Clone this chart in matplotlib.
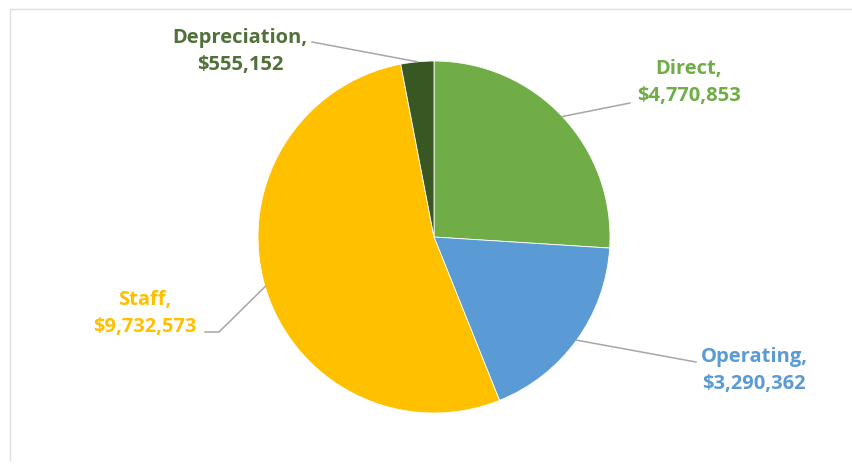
import matplotlib.pyplot as plt
import numpy as np

categories = ["Direct", "Operating", "Staff", "Depreciation"]
amounts = [4770853, 3290362, 9732573, 555152]
slice_colors = ["#70AD47", "#5B9BD5", "#FFC000", "#385723"]
label_colors = ["#70AD47", "#5B9BD5", "#FFC000", "#52703A"]

W, H = 853, 465
CX, CY, R = 434, H - 237, 176

# label anchor (text center, top of first line) and leader bend points, pixels from top-left
label_pos = {
    "Direct": ((689, 59), [(630, 103)]),
    "Operating": ((754, 347), [(696, 362)]),
    "Staff": ((145, 290), [(219, 332), (205, 332)]),
    "Depreciation": ((240, 28), [(312, 42)]),
}

fig = plt.figure(figsize=(W / 100, H / 100), dpi=100)
ax = fig.add_axes([0, 0, 1, 1])

# chart frame (only top and left edges are visible)
ax.plot([10, W], [H - 9, H - 9], color="#E0E0E0", lw=1.0)
ax.plot([10, 10], [H - 9, 5], color="#E0E0E0", lw=1.0)

wedges, _ = ax.pie(amounts, colors=slice_colors, startangle=90, counterclock=False,
                   center=(CX, CY), radius=R, frame=True,
                   wedgeprops=dict(linewidth=0.6, edgecolor="white"))
ax.set_xlim(0, W)
ax.set_ylim(0, H)
ax.set_aspect("equal")
ax.axis("off")

for w, name, amt, tc in zip(wedges, categories, amounts, label_colors):
    mid = np.deg2rad((w.theta1 + w.theta2) / 2)
    edge = (CX + R * np.cos(mid), CY + R * np.sin(mid))
    (tx, ty), bends = label_pos[name]
    pts = [edge] + [(bx, H - by) for bx, by in bends]
    xs, ys = zip(*pts)
    ax.plot(xs, ys, color="#A6A6A6", lw=1.1, zorder=1)
    ax.text(tx, H - ty, f"{name},\n${amt:,}", ha="center", va="top",
            color=tc, fontsize=14.5, fontweight="bold", family="Open Sans",
            linespacing=1.45)

fig.savefig("out.png", dpi=100, facecolor="white")
